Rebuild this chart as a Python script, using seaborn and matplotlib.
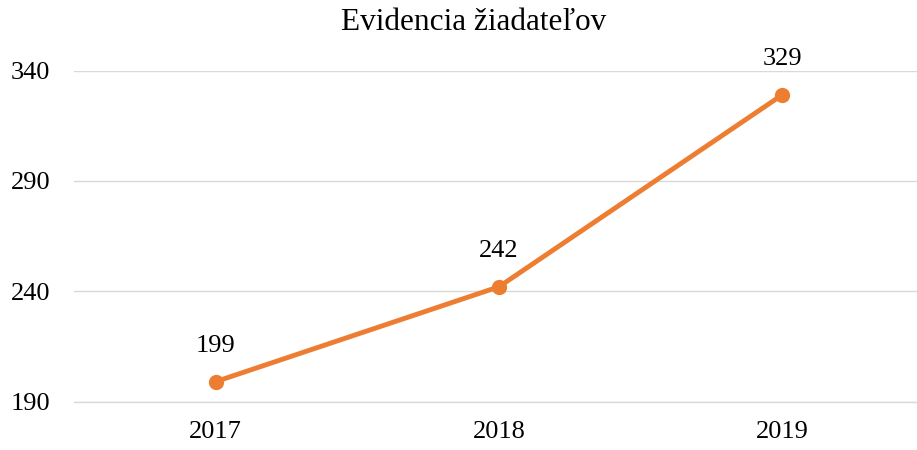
import pandas as pd
import matplotlib
matplotlib.use("Agg")
import matplotlib.pyplot as plt
import seaborn as sns

years = ["2017", "2018", "2019"]
applicants = [199, 242, 329]
y_ticks = [190, 240, 290, 340]

df = pd.DataFrame({"Rok": years, "Ziadatelia": applicants})

sns.set_style("white")
plt.rcParams["font.family"] = ["Liberation Serif", "DejaVu Serif"]
plt.rcParams["text.color"] = "black"

fig = plt.figure(figsize=(9.17, 4.5), dpi=100)
ax = fig.add_axes([74 / 917, 1 - 401.5 / 450, (917 - 74) / 917, 331 / 450])

sns.lineplot(data=df, x="Rok", y="Ziadatelia", ax=ax, color="#ED7D31",
             linewidth=3.5, marker="o", markersize=11, markeredgewidth=0,
             sort=False)

ax.set_xlim(-0.5, 2.5 - 7 / 283.5)
ax.set_ylim(190, 340)
ax.set_yticks(y_ticks)
ax.grid(axis="y", color="#D9D9D9", linewidth=1)
ax.set_axisbelow(True)
for s in ["top", "right", "left"]:
    ax.spines[s].set_visible(False)
ax.spines["bottom"].set_color("#D9D9D9")
ax.spines["bottom"].set_linewidth(1)
ax.tick_params(axis="both", length=0, labelsize=19, colors="black")
ax.tick_params(axis="y", pad=17)
ax.tick_params(axis="x", pad=14)
ax.set_xlabel("")
ax.set_ylabel("")

for i, v in enumerate(applicants):
    ax.annotate(str(v), (i, v), xytext=(0, 18), textcoords="offset points",
                ha="center", va="bottom", fontsize=19, color="black")

fig.text(474 / 917, 1 - 22 / 450, "Evidencia žiadateľov", ha="center",
         va="center", fontsize=22.5, color="black")

fig.savefig("out.png", dpi=100)
